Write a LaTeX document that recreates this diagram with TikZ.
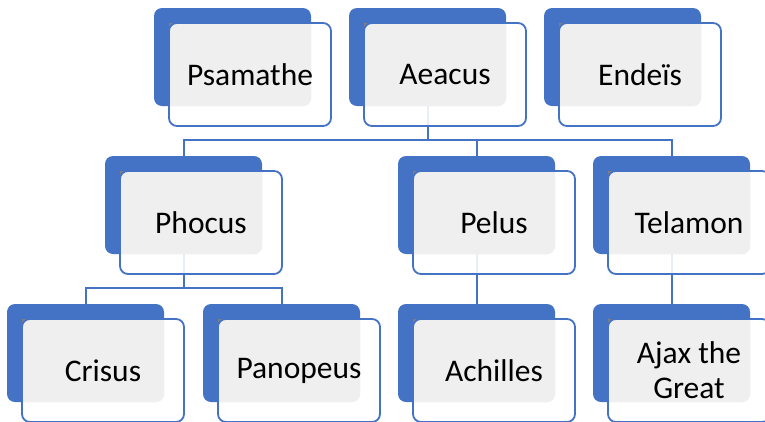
\documentclass[tikz,border=0pt]{standalone}
\usepackage{fontspec}
\setmainfont{Carlito}
\pgfdeclarelayer{wires}
\pgfsetlayers{wires,main}
\definecolor{famblue}{HTML}{4472C4}
\definecolor{overlapgray}{HTML}{EFEFEF}
\definecolor{cornergray}{HTML}{7F7F7F}
\tikzset{
  backbox/.style={fill=famblue, draw=none, rounded corners=8pt,
    minimum width=157pt, minimum height=98pt, inner sep=0pt},
  frontfill/.style={fill=white, fill opacity=0.88, draw=none, rounded corners=8pt,
    minimum width=162pt, minimum height=103pt, inner sep=0pt},
  frontbox/.style={draw=famblue, line width=1.8pt, rounded corners=8pt,
    minimum width=162pt, minimum height=103pt, inner sep=0pt,
    align=center, font=\fontsize{31.5}{35}\selectfont},
  wire/.style={draw=famblue, line width=2pt}
}
% #1 name, #2 #3 top-left corner of the blue back card, #4 label
\newcommand\kin[4]{%
  \node[backbox] (#1B) at (#2+78.5,#3+49) {};
  \fill[cornergray] (#2+15,#3+15) rectangle (#2+24,#3+24);
  \node[frontfill] at (#2+96,#3+66.5) {};
  \begin{scope}
    \clip[rounded corners=8pt] (#2,#3) rectangle (#2+157,#3+98);
    \fill[overlapgray, rounded corners=8pt] (#2+15,#3+15) rectangle (#2+177,#3+118);
  \end{scope}
  \node[frontbox] (#1) at (#2+96,#3+66.5) {#4};
}
\begin{document}
\begin{tikzpicture}[x=1pt, y=-1pt]
\useasboundingbox (0,0) rectangle (765,421);
% parents
\kin{psam}{154}{8}{Psamathe}
\kin{aeac}{349}{8}{Aeacus}
\kin{ende}{544}{8}{Endeïs}
% sons
\kin{phoc}{105}{156}{Phocus}
\kin{pelu}{398}{156}{Pelus}
\kin{tela}{593}{156}{Telamon}
% grandsons
\kin{cris}{7}{304}{Crisus}
\kin{pano}{203}{304}{Panopeus}
\kin{achi}{398}{304}{Achilles}
\kin{ajax}{593}{304}{Ajax the\\Great}
% connectors
\begin{pgfonlayer}{wires}
  \draw[wire] (aeacB.south) -- (aeacB.south |- 0,140);
  \draw[wire] (phocB.north) -- (phocB.north |- 0,140) -| (telaB.north);
  \draw[wire] (peluB.north) -- (peluB.north |- 0,140);
  \draw[wire] (phocB.south) -- (phocB.south |- 0,288);
  \draw[wire] (crisB.north) -- (crisB.north |- 0,288) -| (panoB.north);
  \draw[wire] (peluB.south) -- (achiB.north);
  \draw[wire] (telaB.south) -- (ajaxB.north);
\end{pgfonlayer}
\end{tikzpicture}
\end{document}
